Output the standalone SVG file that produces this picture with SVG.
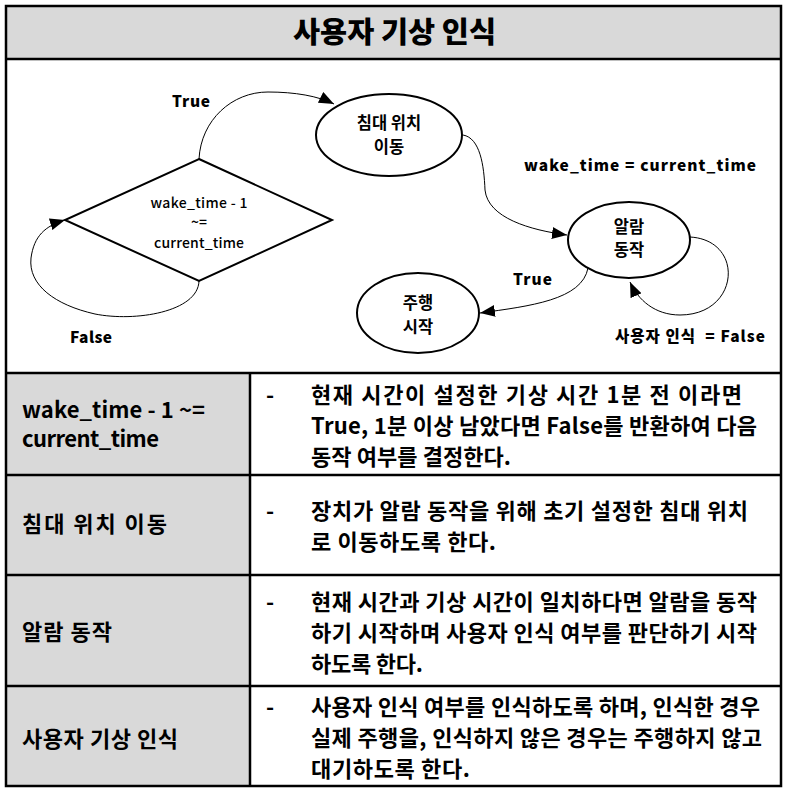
<svg xmlns="http://www.w3.org/2000/svg" width="789" height="796" viewBox="0 0 789 796">
<defs>
<marker id="ah" markerUnits="userSpaceOnUse" markerWidth="16" markerHeight="12" refX="15" refY="6" orient="auto">
<path d="M0,0 L15,6 L0,12 Z" fill="#000"/>
</marker>
<style>
.kr{font-family:"Noto Sans CJK KR","Noto Sans",sans-serif;fill:#000}
.tb{font-size:22px;font-weight:700}
.lb{font-size:15.5px;font-weight:900}
.nd{font-size:16.5px;font-weight:700;text-anchor:middle}
.dm{font-size:14px;font-weight:500;text-anchor:middle}
.shape{fill:#fff;stroke:#000;stroke-width:2}
.conn{fill:none;stroke:#000;stroke-width:1}
.grid{stroke:#000;stroke-width:2.5;fill:none}
</style>
</defs>
<rect x="0" y="0" width="789" height="796" fill="#fff"/>
<!-- title -->
<rect x="6" y="6" width="775" height="53" fill="#d9d9d9"/>
<text class="kr" x="293" y="43" font-size="29" font-weight="900" textLength="203" lengthAdjust="spacingAndGlyphs">사용자 기상 인식</text>
<!-- table fills -->
<rect x="6" y="373" width="244" height="413" fill="#d9d9d9"/>
<!-- frame lines -->
<rect class="grid" x="6" y="6" width="775" height="780"/>
<line class="grid" x1="6" y1="59" x2="781" y2="59"/>
<line class="grid" x1="6" y1="373" x2="781" y2="373"/>
<line class="grid" x1="6" y1="475" x2="781" y2="475"/>
<line class="grid" x1="6" y1="575" x2="781" y2="575"/>
<line class="grid" x1="6" y1="686" x2="781" y2="686"/>
<line class="grid" x1="250" y1="373" x2="250" y2="786"/>

<!-- connectors -->
<g id="connectors">
<path class="conn" marker-end="url(#ah)" d="M199,159 C201,120 232,92 268,92 C295,92 318,96 334,104"/>
<path class="conn" marker-end="url(#ah)" d="M463,135 C480,138 484,165 485,190 C488,218 530,230 567,235"/>
<path class="conn" marker-end="url(#ah)" d="M588,268 C582,300 530,306 480,313"/>
<path class="conn" marker-end="url(#ah)" d="M690,237 C745,240 740,315 680,315 C655,315 638,300 630,282"/>
<path class="conn" marker-end="url(#ah)" d="M199,281 C198,312 135,322 95,314 C55,305 28,285 31,258 C34,236 45,226 65,220"/>
<text class="kr lb" x="172" y="107" textLength="38">True</text>
<text class="kr lb" x="524" y="171" textLength="232">wake_time = current_time</text>
<text class="kr lb" x="513" y="285" textLength="39">True</text>
<text class="kr lb" x="615" y="342" textLength="150" xml:space="preserve">사용자 인식  = False</text>
<text class="kr lb" x="70" y="343" textLength="42">False</text>
</g>

<g id="node-decision">
<polygon class="shape" points="199,159 332,220 199,281 65,220"/>
<text class="kr dm" x="199" y="208" textLength="97">wake_time - 1</text>
<text class="kr dm" x="199" y="227">~=</text>
<text class="kr dm" x="199" y="248" textLength="90">current_time</text>
</g>
<g id="node-bed">
<ellipse class="shape" cx="389" cy="135" rx="73" ry="41"/>
<text class="kr nd" x="389" y="129">침대 위치</text>
<text class="kr nd" x="389" y="153">이동</text>
</g>
<g id="node-alarm">
<ellipse class="shape" cx="629" cy="240" rx="61" ry="38"/>
<text class="kr nd" x="629" y="233">알람</text>
<text class="kr nd" x="629" y="256">동작</text>
</g>
<g id="node-drive">
<ellipse class="shape" cx="418" cy="313" rx="61" ry="40"/>
<text class="kr nd" x="418" y="309">주행</text>
<text class="kr nd" x="418" y="333">시작</text>
</g>

<!-- table text -->
<g class="kr tb">
<text x="22" y="418" textLength="183">wake_time - 1 ~=</text>
<text x="22" y="447" textLength="137">current_time</text>
<text x="266" y="403">-</text>
<text x="311" y="403" textLength="431">현재 시간이 설정한 기상 시간 1분 전 이라면</text>
<text x="311" y="434" textLength="446">True, 1분 이상 남았다면 False를 반환하여 다음</text>
<text x="311" y="465" textLength="200">동작 여부를 결정한다.</text>

<text x="22" y="532" textLength="145">침대 위치 이동</text>
<text x="266" y="519">-</text>
<text x="311" y="519" textLength="437">장치가 알람 동작을 위해 초기 설정한 침대 위치</text>
<text x="311" y="550" textLength="185">로 이동하도록 한다.</text>

<text x="22" y="640" textLength="90">알람 동작</text>
<text x="266" y="610">-</text>
<text x="311" y="610" textLength="446">현재 시간과 기상 시간이 일치하다면 알람을 동작</text>
<text x="311" y="641" textLength="446">하기 시작하며 사용자 인식 여부를 판단하기 시작</text>
<text x="311" y="672" textLength="112">하도록 한다.</text>

<text x="22" y="747" textLength="156">사용자 기상 인식</text>
<text x="266" y="715">-</text>
<text x="311" y="715" textLength="449">사용자 인식 여부를 인식하도록 하며, 인식한 경우</text>
<text x="311" y="746" textLength="451">실제 주행을, 인식하지 않은 경우는 주행하지 않고</text>
<text x="311" y="777" textLength="159">대기하도록 한다.</text>
</g>
</svg>
